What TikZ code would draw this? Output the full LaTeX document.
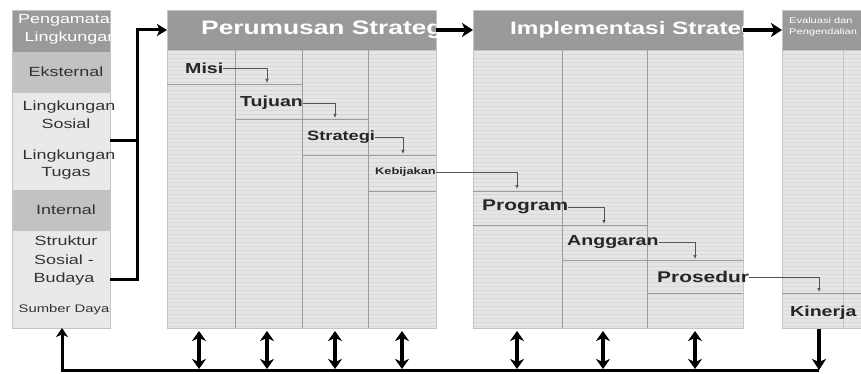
\documentclass[tikz,border=0pt]{standalone}
\usepackage{fontspec}
\setmainfont{Liberation Sans}
\newfontfamily\wsans[FakeStretch=1.35]{Liberation Sans}
\usetikzlibrary{arrows.meta}
\definecolor{hdr}{HTML}{9A9A9A}
\definecolor{mid}{HTML}{C2C2C2}
\definecolor{lite}{HTML}{E9E9E9}
\definecolor{bodyc}{HTML}{E6E6E6}
\definecolor{strp}{HTML}{D8D8D8}
\definecolor{divl}{HTML}{9C9C9C}
\definecolor{bordr}{HTML}{C4C4C4}
\definecolor{txt}{HTML}{333333}
\definecolor{stairc}{HTML}{555555}
\begin{document}
\begin{tikzpicture}[x=1pt,y=-1pt,
  box/.style={draw=bordr, line width=0.6pt, inner sep=0pt, outer sep=0pt, anchor=north west},
  lbl/.style={font=\wsans\fontsize{13.3}{13.3}\selectfont, text=txt, inner sep=0pt},
  hlbl/.style={font=\wsans\bfseries\fontsize{19.5}{20}\selectfont, text=white, inner sep=0pt, anchor=west},
  elbl/.style={font=\wsans\fontsize{8.2}{9}\selectfont, text=white, inner sep=0pt, anchor=west},
  item/.style={font=\wsans\bfseries\fontsize{14.5}{15}\selectfont, text=black!85, inner sep=0pt, anchor=west},
  sarrow/.style={draw=stairc, line width=0.7pt, -{Latex[length=4pt,width=3.5pt]}},
  rowline/.style={draw=divl, line width=0.6pt},
  bline/.style={draw=black, line width=3pt},
  bigarrow/.style={draw=black, line width=4.5pt, -{Stealth[length=11pt,width=14pt,inset=3pt]}},
  dbl/.style={draw=black, line width=3.3pt, {Stealth[length=10pt,width=14pt,inset=3pt]}-{Stealth[length=10pt,width=14pt,inset=3pt]}}
]
\clip (0,0) rectangle (861,374);
\fill[white] (0,0) rectangle (861,374);

% ---------- left panel ----------
\node[box, fill=hdr, minimum width=98pt, minimum height=42pt] (lh) at (12,10) {};
\node[box, fill=mid, minimum width=98pt, minimum height=40pt] (lek) at (12,52) {};
\node[box, fill=lite, minimum width=98pt, minimum height=98pt] (lext) at (12,92) {};
\node[box, fill=mid, minimum width=98pt, minimum height=40pt] (lin) at (12,190) {};
\node[box, fill=lite, minimum width=98pt, minimum height=98pt] (lint) at (12,230) {};

\node[lbl, text=white] (t1) at (69,20) {Pengamatan};
\node[lbl, text=white] (t2) at (71,38) {Lingkungan};
\node[lbl] (t3) at (66,72) {Eksternal};
\node[lbl] (t4) at (69,107) {Lingkungan};
\node[lbl] (t5) at (66,124) {Sosial};
\node[lbl] (t6) at (69,156) {Lingkungan};
\node[lbl] (t7) at (66,173) {Tugas};
\node[lbl] (t8) at (66,210) {Internal};
\node[lbl] (t9) at (66,241) {Struktur};
\node[lbl] (t10) at (64,260) {Sosial -};
\node[lbl] (t11) at (64,279) {Budaya};
\node[lbl, font=\wsans\fontsize{11}{11}\selectfont] (t12) at (64,310) {Sumber Daya};

% ---------- panels ----------
\node[box, fill=bodyc, minimum width=269pt, minimum height=278pt] (pb) at (167,50) {};
\node[box, fill=bodyc, minimum width=270pt, minimum height=278pt] (ib) at (473,50) {};
\node[box, fill=bodyc, minimum width=85pt, minimum height=278pt] (eb) at (782,50) {};
\foreach \yy in {54,58,...,326} {
  \draw[strp, line width=0.4pt] (168,\yy) -- (435,\yy);
  \draw[strp, line width=0.4pt] (474,\yy) -- (742,\yy);
  \draw[strp, line width=0.4pt] (783,\yy) -- (861,\yy);
}
\node[box, fill=hdr, minimum width=269pt, minimum height=40pt] (ph) at (167,10) {};
\node[box, fill=hdr, minimum width=270pt, minimum height=40pt] (ih) at (473,10) {};
\node[box, fill=hdr, minimum width=85pt, minimum height=40pt] (eh) at (782,10) {};

\begin{scope}
  \clip (ph.south west) rectangle (ph.north east);
  \node[hlbl] (pht) at (201,30) {Perumusan Strategi};
\end{scope}
\begin{scope}
  \clip (ih.south west) rectangle (ih.north east);
  \node[hlbl, font=\wsans\bfseries\fontsize{18}{19}\selectfont] (iht) at (510,30) {Implementasi Strategi};
\end{scope}
\node[elbl] (eht1) at (789,21) {Evaluasi dan};
\node[elbl] (eht2) at (789,32) {Pengendalian};

% column dividers
\foreach \xx in {235,302,368,562,647} \draw[divl, line width=0.6pt] (\xx,50) -- (\xx,328);
\draw[bordr, line width=0.6pt] (843,50) -- (843,328);

% staircase row lines
\draw[rowline] (167,84) -- (302,84);
\draw[rowline] (235,119) -- (368,119);
\draw[rowline] (302,155) -- (436,155);
\draw[rowline] (368,191) -- (436,191);
\draw[rowline] (473,191) -- (562,191);
\draw[rowline] (473,225) -- (647,225);
\draw[rowline] (562,260) -- (743,260);
\draw[rowline] (647,293) -- (743,293);
\draw[rowline] (782,293) -- (861,293);

% staircase items
\node[item] (misi) at (185,68) {Misi};
\node[item] (tujuan) at (240,103) {Tujuan};
\node[item, font=\wsans\bfseries\fontsize{13.5}{14}\selectfont] (strategi) at (307,137) {Strategi};
\node[item, font=\wsans\bfseries\fontsize{9.5}{10}\selectfont] (kebijakan) at (375,172) {Kebijakan};
\node[item, font=\wsans\bfseries\fontsize{15.5}{16}\selectfont] (program) at (482,207) {Program};
\node[item] (anggaran) at (567,242) {Anggaran};
\node[item, font=\wsans\bfseries\fontsize{15.5}{16}\selectfont] (prosedur) at (657,277) {Prosedur};
\node[item] (kinerja) at (790,313) {Kinerja};

\coordinate (a1) at (267,83);
\coordinate (a2) at (335,118);
\coordinate (a3) at (403,154);
\coordinate (a4) at (517,189);
\coordinate (a5) at (604,224);
\coordinate (a6) at (695,259);
\coordinate (a7) at (819,292);
\draw[sarrow] (misi.east) -| (a1);
\draw[sarrow] (tujuan.east) -| (a2);
\draw[sarrow] (strategi.east) -| (a3);
\draw[sarrow] (kebijakan.east) -| (a4);
\draw[sarrow] (program.east) -| (a5);
\draw[sarrow] (anggaran.east) -| (a6);
\draw[sarrow] (prosedur.east) -| (a7);

% ---------- bracket and header arrows ----------
\coordinate (jn) at (137,30);
\draw[bline] (lext.east) -- (lext.east -| jn);
\draw[bline, -{Stealth[length=10pt,width=12pt,inset=2.5pt]}] (lint.east) -| (jn) -- (ph.west);
\draw[bigarrow] (ph.east) -- (ih.west);
\draw[bigarrow] (ih.east) -- (eh.west);

% ---------- bottom arrows ----------
\foreach \xx [count=\i] in {199,267,335,402,517,603,695} {
  \coordinate (u\i) at (\xx,331);
  \coordinate (d\i) at (\xx,369);
  \draw[dbl] (u\i) -- (d\i);
}
\coordinate (kd) at (819,329);
\coordinate (kb) at (819,370);
\coordinate (lb) at (62,370.5);
\draw[bline, line width=3.5pt, -{Stealth[length=11pt,width=14pt,inset=3pt]}] (kd) -- (kb);
\draw[bline, -{Stealth[length=9pt,width=12pt,inset=2.5pt]}] (819,370.5) -- (lb) -- (lb |- lint.south);
\end{tikzpicture}
\end{document}
